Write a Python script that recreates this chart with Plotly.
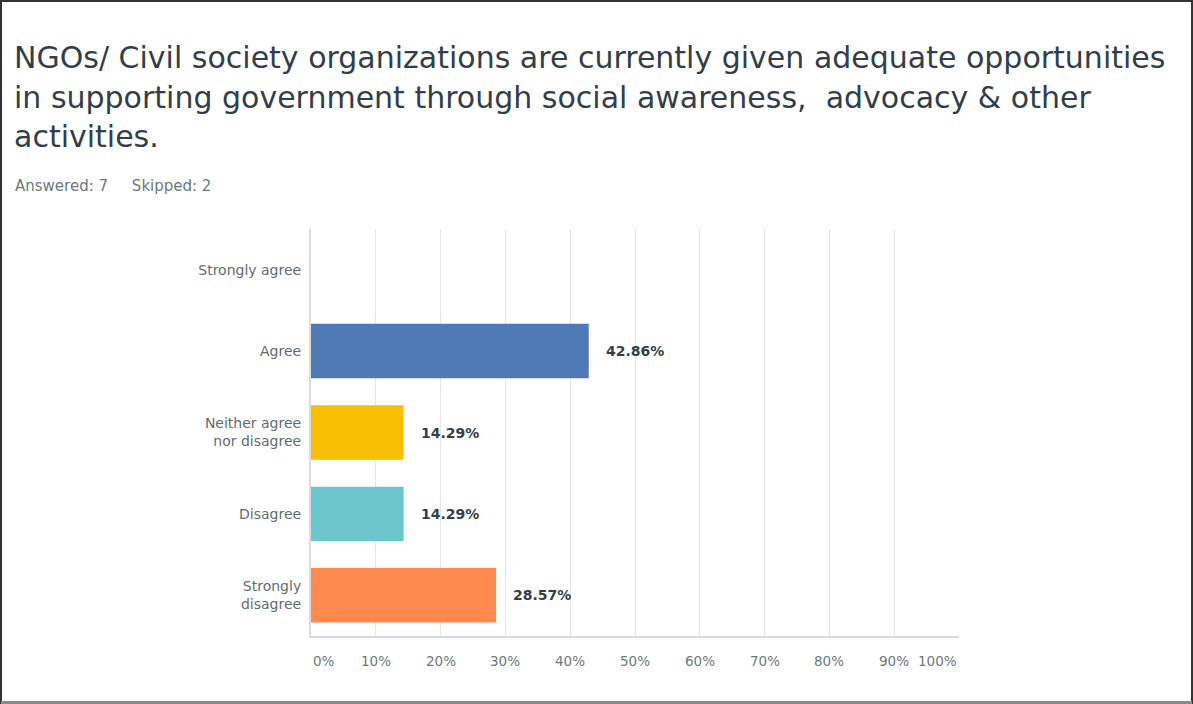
import plotly.graph_objects as go

categories = ["Strongly agree", "Agree", "Neither agree<br>nor disagree", "Disagree", "Strongly<br>disagree"]
values = [0.0, 42.86, 14.29, 14.29, 28.57]
value_labels = ["", "42.86%", "14.29%", "14.29%", "28.57%"]
colors = ["#4f7ab5", "#4f7ab5", "#f7bf00", "#6bc7cc", "#ff8a4f"]
tick_vals = [0, 10, 20, 30, 40, 50, 60, 70, 80, 90, 100]
tick_text = ["0%", "10%", "20%", "30%", "40%", "50%", "60%", "70%", "80%", "90%", "100%"]

title_lines = ["NGOs/ Civil society organizations are currently given adequate opportunities",
               "in supporting government through social awareness,  advocacy & other",
               "activities."]
subtitle = "Answered: 7&nbsp;&nbsp;&nbsp;&nbsp;&nbsp;Skipped: 2"

W, H = 1193, 704
ML, MR, MT, MB = 311, 234, 229, 68
PW, PH = W - ML - MR, H - MT - MB

def px_x(p):
    return (p - ML) / PW

def px_y(p):
    return 1 - (p - MT) / PH

FONT = "DejaVu Sans"

fig = go.Figure()
fig.add_trace(go.Bar(
    y=categories, x=values, orientation="h",
    marker=dict(color=colors, line=dict(width=0)),
    hoverinfo="skip",
))

annotations = []
for c, v, t in zip(categories, values, value_labels):
    if t:
        annotations.append(dict(x=v, y=c, xref="x", yref="y", text="<b>" + t + "</b>",
                                showarrow=False, xanchor="left", xshift=15,
                                font=dict(family=FONT, size=14, color="#333e48")))

for i, (tv, tt) in enumerate(zip(tick_vals, tick_text)):
    anchor = "left" if i == 0 else ("right" if i == len(tick_vals) - 1 else "center")
    annotations.append(dict(x=tv, y=px_y(661), xref="x", yref="paper", text=tt,
                            showarrow=False, xanchor=anchor, yanchor="middle",
                            font=dict(family=FONT, size=13.5, color="#6b787f")))

for i, line in enumerate(title_lines):
    annotations.append(dict(x=px_x(12), y=px_y(57 + 40 * i), xref="paper", yref="paper",
                            text=line, showarrow=False, xanchor="left", yanchor="middle",
                            font=dict(family=FONT, size=30, color="#333e48")))
annotations.append(dict(x=px_x(13), y=px_y(186), xref="paper", yref="paper",
                        text=subtitle, showarrow=False, xanchor="left", yanchor="middle",
                        font=dict(family=FONT, size=15, color="#6b787f")))

shapes = [
    dict(type="rect", xref="paper", yref="paper",
         x0=px_x(1), x1=px_x(1192), y0=px_y(1), y1=px_y(703),
         line=dict(color="#333333", width=2), fillcolor="rgba(0,0,0,0)", layer="above"),
    dict(type="line", xref="paper", yref="paper",
         x0=px_x(1), x1=px_x(1192), y0=px_y(702.5), y1=px_y(702.5),
         line=dict(color="#8a8a8a", width=3), layer="above"),
]

fig.update_layout(
    width=W, height=H,
    margin=dict(l=ML, r=MR, t=MT, b=MB, pad=0),
    paper_bgcolor="white", plot_bgcolor="white",
    showlegend=False,
    bargap=0.33,
    font=dict(family=FONT, size=14, color="#6b787f"),
    xaxis=dict(range=[0, 100], tickvals=tick_vals, showticklabels=False,
               showgrid=True, gridcolor="#e6e6e6", gridwidth=1,
               zeroline=False, showline=True, linecolor="#d9d9d9", linewidth=2,
               fixedrange=True),
    yaxis=dict(categoryorder="array", categoryarray=categories, autorange="reversed",
               showgrid=False, zeroline=False, showline=True, linecolor="#dcdcdc", linewidth=2,
               ticks="", ticklabelstandoff=5,
               tickfont=dict(family=FONT, size=14, color="#5f6b73"), fixedrange=True),
    annotations=annotations,
    shapes=shapes,
)

fig.write_html("out.html", config={"displayModeBar": False})
